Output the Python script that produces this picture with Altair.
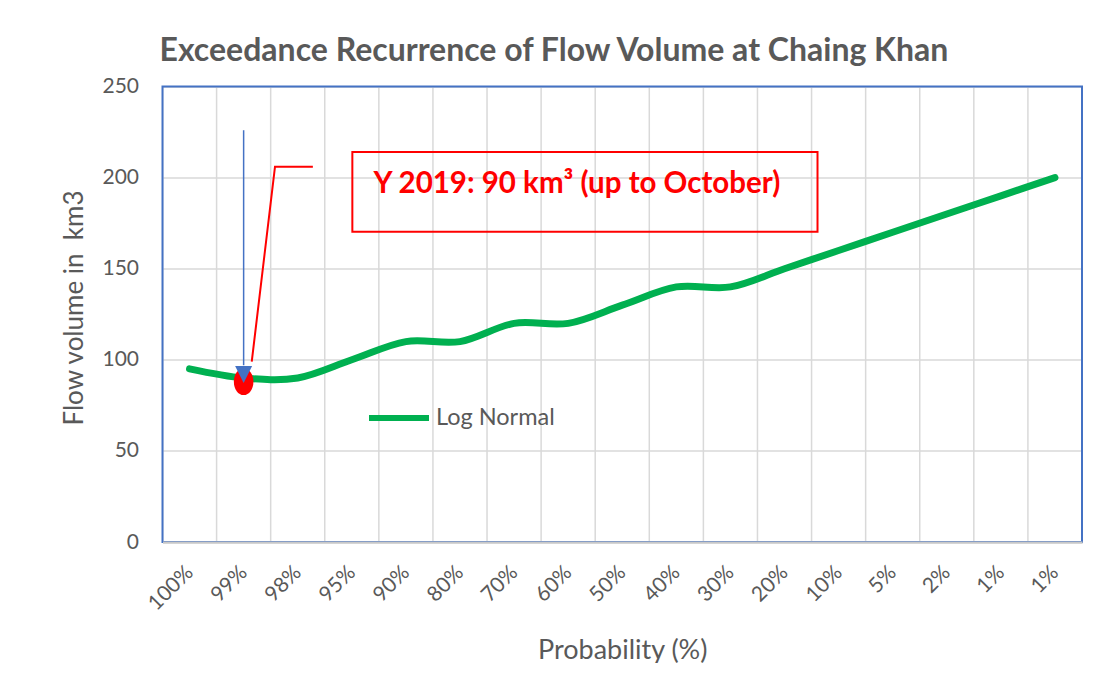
import json
import altair as alt
import pandas as pd

# ---------------- data ----------------
categories = ["100%", "99%", "98%", "95%", "90%", "80%", "70%", "60%", "50%",
              "40%", "30%", "20%", "10%", "5%", "2%", "1%", "1%"]
volumes = [95, 90, 90, 100, 110, 110, 120, 120, 130, 140, 140, 150, 160, 170, 180, 190, 200]
series_name = "Log Normal"

# annotation (category-index units on x, km3 on y)
obs_index = [1]
obs_value = [88]
arrow_index = [1, 1]
arrow_value = [226, 97]
arrowhead_value = [92]
callout_index = [2.28, 1.58, 1.15]
callout_value = [206, 206, 99]
box_index = [3.01, 11.61]
box_value = [170.3, 214.1]
note_index = [3.40]
note_value = [191.5]
note_text = ["Y 2019: 90 km³ (up to October)"]

title_text = "Exceedance Recurrence of Flow Volume at Chaing Khan"
x_title = "Probability (%)"
y_title = "Flow volume in\u00a0 km3"
y_ticks = [0, 50, 100, 150, 200, 250]

# ---------------- tables ----------------
n = len(categories)
main_df = pd.DataFrame({"idx": list(range(n)), "val": volumes, "series": [series_name] * n})
vgrid_df = pd.DataFrame({"idx": [i + 0.5 for i in range(n - 1)]})
border_df = pd.DataFrame({"idx": [-0.5], "idx2": [n - 0.5], "val": [0], "val2": [250]})
obs_df = pd.DataFrame({"idx": obs_index, "val": obs_value})
arrow_df = pd.DataFrame({"idx": arrow_index, "val": arrow_value})
head_df = pd.DataFrame({"idx": obs_index, "val": arrowhead_value})
callout_df = pd.DataFrame({"idx": callout_index, "val": callout_value, "o": [0, 1, 2]})
box_df = pd.DataFrame({"idx": [box_index[0]], "idx2": [box_index[1]],
                       "val": [box_value[0]], "val2": [box_value[1]]})
note_df = pd.DataFrame({"idx": note_index, "val": note_value, "t": note_text})

FONT = "Lato"
GREY = "#595959"

label_expr = json.dumps(categories) + "[datum.value]"

x_axis = alt.Axis(values=list(range(n)), labelExpr=label_expr, labelAngle=-45,
                  labelAlign="right", labelBaseline="middle", labelPadding=27,
                  labelFontSize=21, labelColor=GREY, labelFont=FONT,
                  labelOverlap=False, labelBound=False, labelFlush=False,
                  ticks=False, grid=False, domainColor="#C8C8C8", domainWidth=2,
                  zindex=1, title=x_title, titleFontSize=27, titleFont=FONT,
                  titleFontWeight="normal", titleColor=GREY, titleY=116,
                  titleBaseline="alphabetic")
y_axis = alt.Axis(values=y_ticks, labelFontSize=21, labelColor=GREY, labelFont=FONT,
                  labelPadding=24, ticks=False, domain=False, grid=True,
                  gridColor="#D9D9D9", gridWidth=1.5, title=y_title,
                  titleFontSize=26, titleFont=FONT, titleFontWeight="normal",
                  titleColor=GREY, titleX=-88, titleY=221, titleAngle=-90,
                  titleAlign="center", titleBaseline="middle")

xs = alt.Scale(domain=[-0.5, n - 0.5], nice=False, zero=False)
ys = alt.Scale(domain=[0, 250], nice=False)


def X():
    return alt.X("idx:Q", scale=xs, axis=x_axis)


def Y():
    return alt.Y("val:Q", scale=ys, axis=y_axis)


vgrid = alt.Chart(vgrid_df).mark_rule(color="#D9D9D9", strokeWidth=1.5).encode(x=X())

border = alt.Chart(border_df).mark_rect(fillOpacity=0, stroke="#4472C4", strokeWidth=2).encode(
    x=X(), x2="idx2:Q", y=Y(), y2="val2:Q")

line = alt.Chart(main_df).mark_line(strokeWidth=7, strokeCap="round", interpolate="cardinal").encode(
    x=X(), y=Y(),
    color=alt.Color("series:N", scale=alt.Scale(domain=[series_name], range=["#00B050"]),
                    legend=alt.Legend(title=None, orient="none", legendX=203.5, legendY=298.5,
                                      symbolType="stroke", symbolSize=3600,
                                      symbolStrokeWidth=6, labelFontSize=23.5,
                                      labelFont=FONT, labelColor=GREY, labelOffset=4,
                                      padding=0)))

ellipse_path = "M0,-1A0.73,1,0,1,1,0,1A0.73,1,0,1,1,0,-1Z"
obs = alt.Chart(obs_df).mark_point(shape=ellipse_path, filled=True, color="#FF0000",
                                   opacity=1, size=720).encode(x=X(), y=Y())

arrow = alt.Chart(arrow_df).mark_line(color="#4472C4", strokeWidth=1.5).encode(x=X(), y=Y())
head = alt.Chart(head_df).mark_point(shape="M-1,-1L1,-1L0,1Z", filled=True, color="#4472C4",
                                     opacity=1, size=289).encode(x=X(), y=Y())

callout = alt.Chart(callout_df).mark_line(color="#FF0000", strokeWidth=2).encode(
    x=X(), y=Y(), order="o:Q")

box = alt.Chart(box_df).mark_rect(fillOpacity=0, stroke="#FF0000", strokeWidth=2).encode(
    x=X(), x2="idx2:Q", y=Y(), y2="val2:Q")

note = alt.Chart(note_df).mark_text(align="left", baseline="alphabetic", font=FONT,
                                    fontSize=29.5, fontWeight="bold", color="#FF0000").encode(
    x=X(), y=Y(), text="t:N")

chart = alt.layer(vgrid, border, line, obs, head, arrow, callout, box, note).properties(
    width=919.5, height=455.5,
    padding={"left": 154.5, "top": 78.5, "right": 7, "bottom": 121},
    autosize=alt.AutoSizeParams(type="none"),
    title=alt.Title(title_text, anchor="start", frame="group", fontSize=32, font=FONT,
                    fontWeight="bold", color=GREY, baseline="alphabetic", offset=18,
                    dx=-3, dy=35),
).configure_view(stroke=None).configure(background="white")

chart.save("out.html", embed_options={"renderer": "svg", "actions": False})
